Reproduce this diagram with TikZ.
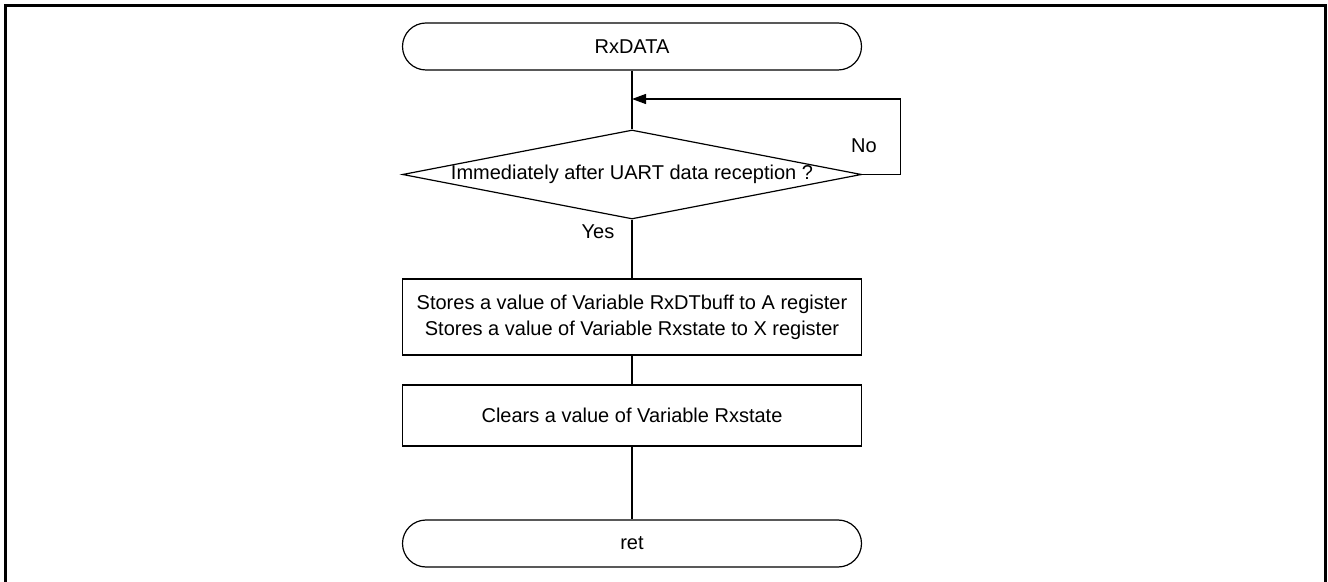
\documentclass[tikz,border=0pt]{standalone}
\usepackage{fontspec}
\setmainfont{Liberation Sans}
\usetikzlibrary{shapes.geometric,arrows.meta}
\tikzset{
  terminal/.style={draw, rectangle, rounded corners=11.75pt, minimum width=229.5pt, minimum height=23.5pt, inner sep=0pt},
  process/.style={draw, rectangle, minimum width=229.5pt, align=center, inner sep=0pt},
  decision/.style={draw, diamond, minimum width=229.5pt, minimum height=44.5pt, inner sep=0pt},
  flow/.style={line width=0.6pt}
}
\begin{document}
\begin{tikzpicture}[x=0.5pt, y=-0.5pt, line width=0.6pt,
  font=\fontsize{10}{13}\selectfont]
  \useasboundingbox (0,0) rectangle (1328,582);
  % outer frame
  \draw[line width=1.5pt] (5,582) -- (5,6) -- (1325,6) -- (1325,582);
  \node[terminal] (start) at (632,46.5) {RxDATA};
  \node[decision] (check) at (632,174.5) {};
  \node (checktext) at (check.center) {Immediately after UART data reception ?};
  \node[process, minimum height=38pt] (load) at (632,317) {Stores a value of Variable RxDTbuff to A register\\Stores a value of Variable Rxstate to X register};
  \node[process, minimum height=30.5pt] (clear) at (632,415.5) {Clears a value of Variable Rxstate};
  \node[terminal] (ret) at (632,543.5) {ret};
  \coordinate (join) at (632,99);
  \node (no) at (864,146) {No};
  \node (yes) at (598,232) {Yes};
  \draw[flow] (start) -- (check);
  \draw[flow, -{Triangle[length=7pt,width=5pt]}] (check.east) -- ++(38,0) |- (join);
  \draw[flow] (check) -- (load);
  \draw[flow] (load) -- (clear);
  \draw[flow] (clear) -- (ret);
\end{tikzpicture}
\end{document}
